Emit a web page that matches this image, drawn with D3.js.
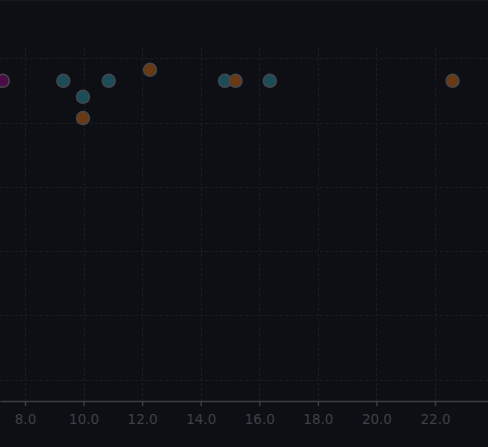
<!DOCTYPE html>
<html>
<head>
<meta charset="utf-8">
<script src="https://cdn.jsdelivr.net/npm/d3@7"></script>
<style>
  html, body { margin: 0; padding: 0; background: #0d0f14; }
  svg { display: block; }
  .tick text { font-family: "DejaVu Sans", sans-serif; }
</style>
</head>
<body>
<div class="chart"></div>
<script>
// values
const xValues = [7.24, 9.31, 9.98, 9.98, 10.86, 12.27, 14.83, 15.19, 16.36, 22.6];
const yValues = [4.65, 4.65, 4.40, 4.07, 4.65, 4.82, 4.65, 4.65, 4.65, 4.65];
const groups  = ["c", "a", "a", "b", "a", "b", "a", "b", "a", "b"];
const xTicks  = [8, 10, 12, 14, 16, 18, 20, 22];
const yTicks  = [0, 1, 2, 3, 4, 5];

const width = 488, height = 447;
const plotTop = 48, plotBottom = 401;

const colors = {a: "#1b4c57", b: "#683912", c: "#4a0b46"};

let svg = d3.select(".chart")
            .append("svg")
            .attr("width", width)
            .attr("height", height);

svg.append("rect")
   .attr("width", width)
   .attr("height", height)
   .attr("fill", "#0d0f14");

svg.append("line")
   .attr("x1", 0).attr("x2", width)
   .attr("y1", 0.5).attr("y2", 0.5)
   .attr("stroke", "#16181d");

let x = d3.scaleLinear()
          .domain([7.146, 23.81])
          .range([0, width]);
let y = d3.scaleLinear()
          .domain([-0.33, 5.16])
          .range([plotBottom, plotTop]);

// grid
svg.append("g")
   .selectAll("line")
   .data(xTicks)
   .enter()
   .append("line")
   .attr("x1", d => Math.round(x(d)) + 0.5)
   .attr("x2", d => Math.round(x(d)) + 0.5)
   .attr("y1", plotTop)
   .attr("y2", plotBottom)
   .attr("stroke", "#1a1c22")
   .attr("stroke-dasharray", "3 2");

svg.append("g")
   .selectAll("line")
   .data(yTicks)
   .enter()
   .append("line")
   .attr("x1", 0)
   .attr("x2", width)
   .attr("y1", d => Math.round(y(d)) + 0.5)
   .attr("y2", d => Math.round(y(d)) + 0.5)
   .attr("stroke", "#1a1c22")
   .attr("stroke-dasharray", "3 2");

// x axis
let xAxis = svg.append("g")
               .attr("transform", "translate(0," + plotBottom + ")")
               .call(d3.axisBottom(x)
                       .tickValues(xTicks)
                       .tickFormat(d3.format(".1f"))
                       .tickSize(5)
                       .tickSizeOuter(0));
xAxis.select(".domain").attr("stroke", "#3b3e44").attr("stroke-width", 1.5);
xAxis.selectAll(".tick line").attr("stroke", "#3b3e44").attr("stroke-width", 1.5);
xAxis.selectAll(".tick text")
     .attr("fill", "#3e4147")
     .attr("font-size", 13.5)
     .attr("dy", "1.1em");

// points
svg.append("g")
   .selectAll("circle")
   .data(xValues.map((v, i) => ({x: v, y: yValues[i], g: groups[i]})))
   .enter()
   .append("circle")
   .attr("cx", d => x(d.x))
   .attr("cy", d => y(d.y))
   .attr("r", 6.5)
   .attr("fill", d => colors[d.g])
   .attr("stroke", "#43464c")
   .attr("stroke-width", 1.5);
</script>
</body>
</html>
